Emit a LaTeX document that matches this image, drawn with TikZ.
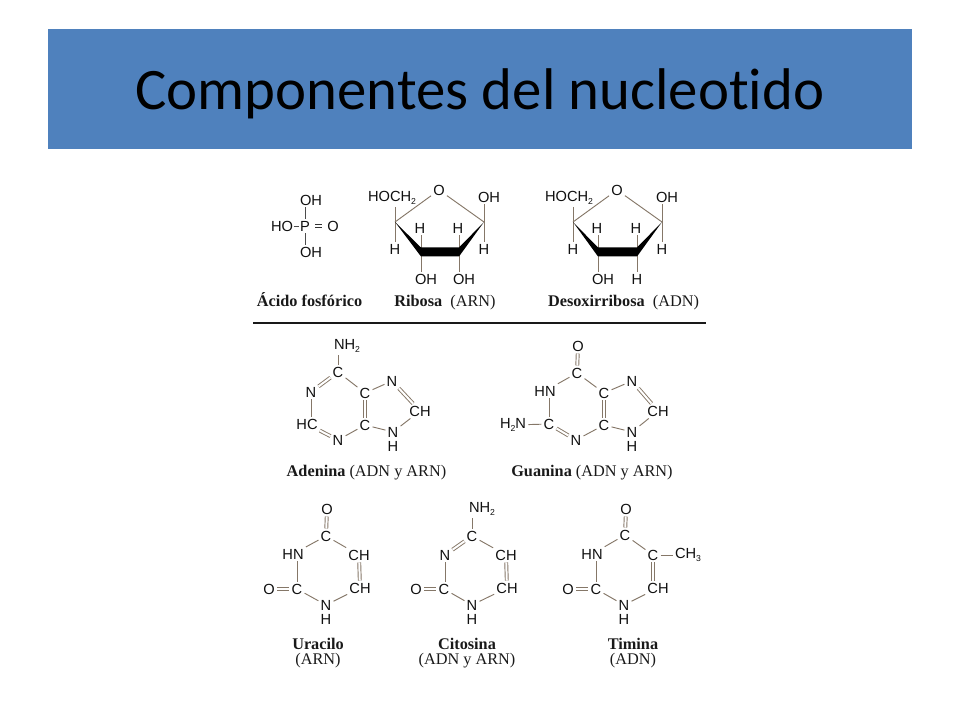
\documentclass[tikz,border=0pt]{standalone}
\usepackage{fontspec}
\setmainfont{Liberation Serif}
\setsansfont{Liberation Sans}
\newfontfamily\titlefont[Ligatures=NoCommon]{Carlito}
\definecolor{bandblue}{HTML}{4F81BD}
\definecolor{bondgray}{HTML}{857768}
\definecolor{atomgray}{HTML}{101010}
\newcommand{\lowsub}[1]{\raisebox{-2.2pt}{\fontsize{6.5}{7}\selectfont #1}}
\tikzset{
	atom/.style = {font = \sffamily\fontsize{11}{12}\selectfont, text = atomgray, inner sep = 1.5pt},
	caption/.style = {font = \fontsize{12.2}{11.8}\selectfont, text = black!90, inner sep = 0pt, anchor = base},
	capstack/.style = {font = \fontsize{12.2}{11.8}\selectfont, text = black!90, inner sep = 0pt, align = center},
	bond/.style = {draw = bondgray, line width = 0.7pt},
	dbond/.style = {draw = bondgray, line width = 0.7pt, double = white, double distance = 1.5pt},
}

\begin{document}
\begin{tikzpicture}[x = 0.75pt, y = -0.75pt]
	\useasboundingbox (0,0) rectangle (960,720);
	
	\fill [bandblue] (48,29) rectangle (912,149);
	\node [font = \titlefont\fontsize{44.1}{50}\selectfont, inner sep = 0pt] (title) at (480,94) {Componentes del nucleotido};
	
	% acido fosforico
	\begin{scope}
		\node [atom] (pP) at (305,226) {P};
		\node [atom] (pOa) at (311,200) {OH};
		\node [atom] (pHO) at (282,226) {HO};
		\node [atom] (pO) at (333,226) {O};
		\node [atom] (pOb) at (311,252) {OH};
		
		\draw [line width = 0.7pt, black!70] (pP.north) -- (pP.north |- pOa.south);
		\draw [line width = 0.7pt, black!70] (pP.south) -- (pP.south |- pOb.north);
		\draw [line width = 0.7pt, black!70, shorten <= -1.2pt, shorten >= -1.2pt] (pHO) -- (pP);
		\draw [dbond, draw = black!80, shorten <= 2pt, shorten >= 2pt] (pP) -- (pO);
		
		\node [caption] (pname) at (309.5,306) {\textbf{Ácido fosfórico}};
	\end{scope}
	
	% ribosa
	\begin{scope}
		\coordinate (ra) at (395,222);
		\coordinate (rb) at (421,252);
		\coordinate (rc) at (459,252);
		\coordinate (rd) at (484,222);
		
		\node [atom] (rO) at (439,190) {O};
		\node [atom] (rCH) at (392,198) {HOCH\lowsub{2}};
		\node [atom] (rOH) at (489,197) {OH};
		\node [atom] (rHa) at (395,249) {H};
		\node [atom] (rHb) at (420,228) {H};
		\node [atom] (rHc) at (458,228) {H};
		\node [atom] (rHd) at (484,249) {H};
		\node [atom] (rOHa) at (426,279) {OH};
		\node [atom] (rOHb) at (464,279) {OH};
		
		\draw [bond] (ra) -- (rO);
		\draw [bond] (rO) -- (rd);
		\draw [bond] (ra |- rCH.south) -- (rHa.north);
		\draw [bond] (rd |- rOH.south) -- (rHd.north);
		\draw [bond] (rb |- rHb.south) -- (rb |- rOHa.north);
		\draw [bond] (rc |- rHc.south) -- (rc |- rOHb.north);
		\fill [black] (ra) -- (421,247.5) -- (459,247.5) -- (rd) -- (459,256.5) -- (421,256.5) -- cycle;
		
		\node [caption] (rname) at (445,306) {\textbf{Ribosa}\ \ (ARN)};
	\end{scope}
	
	% desoxirribosa
	\begin{scope}
		\coordinate (da) at (573,222);
		\coordinate (db) at (598,252);
		\coordinate (dc) at (637,252);
		\coordinate (dd) at (662,222);
		
		\node [atom] (dO) at (617,190) {O};
		\node [atom] (dCH) at (569,198) {HOCH\lowsub{2}};
		\node [atom] (dOH) at (667,197) {OH};
		\node [atom] (dHa) at (573,249) {H};
		\node [atom] (dHb) at (597,228) {H};
		\node [atom] (dHc) at (636,228) {H};
		\node [atom] (dHd) at (662,249) {H};
		\node [atom] (dOHa) at (603,279) {OH};
		\node [atom] (dHe) at (637,279) {H};
		
		\draw [bond] (da) -- (dO);
		\draw [bond] (dO) -- (dd);
		\draw [bond] (da |- dCH.south) -- (dHa.north);
		\draw [bond] (dd |- dOH.south) -- (dHd.north);
		\draw [bond] (db |- dHb.south) -- (db |- dOHa.north);
		\draw [bond] (dc |- dHc.south) -- (dc |- dHe.north);
		\fill [black] (da) -- (598,247.5) -- (637,247.5) -- (dd) -- (637,256.5) -- (598,256.5) -- cycle;
		
		\node [caption] (dname) at (623.5,306) {\textbf{Desoxirribosa}\ \ (ADN)};
	\end{scope}
	
	\coordinate (ruleL) at (253,323);
	\coordinate (ruleR) at (706,323);
	\draw [line width = 1.4pt, black!90] (ruleL) -- (ruleR);
	
	% adenina
	\begin{scope}
		\node [atom] (aNH) at (347,346) {NH\lowsub{2}};
		\node [atom] (aCa) at (338,372) {C};
		\node [atom] (aNa) at (311,392) {N};
		\node [atom] (aCb) at (365,393) {C};
		\node [atom] (aCc) at (365,425) {C};
		\node [atom] (aHC) at (307,424) {HC};
		\node [atom] (aNb) at (338,440) {N};
		\node [atom] (aNc) at (392,381) {N};
		\node [atom] (aCH) at (420,411) {CH};
		\node [atom] (aNd) at (393,432) {N};
		\node [atom] (aH) at (393,446) {H};
		
		\draw [bond] (aCa.north) -- (aCa.north |- aNH.south);
		\draw [dbond] (aCa) -- (aNa);
		\draw [bond] (aCa) -- (aCb);
		\draw [bond] (aNa.south) -- (aNa.south |- aHC.north);
		\draw [dbond] (aHC) -- (aNb);
		\draw [bond] (aNb) -- (aCc);
		\draw [dbond] (aCb) -- (aCc);
		\draw [bond] (aCb) -- (aNc);
		\draw [dbond] (aNc) -- (aCH);
		\draw [bond] (aCH) -- (aNd);
		\draw [bond] (aCc) -- (aNd);
		
		\node [caption] (aname) at (366.5,476) {\textbf{Adenina} (ADN y ARN)};
	\end{scope}
	
	% guanina
	\begin{scope}
		\node [atom] (gO) at (578,346) {O};
		\node [atom] (gCa) at (577,373) {C};
		\node [atom] (gHN) at (545,391) {HN};
		\node [atom] (gCb) at (549,424) {C};
		\node [atom] (gHH) at (513,425) {H\lowsub{2}N};
		\node [atom] (gNa) at (576,440) {N};
		\node [atom] (gCc) at (604,393) {C};
		\node [atom] (gCd) at (604,425) {C};
		\node [atom] (gNb) at (632,381) {N};
		\node [atom] (gCH) at (658,411) {CH};
		\node [atom] (gNc) at (632,432) {N};
		\node [atom] (gH) at (632,446) {H};
		
		\draw [dbond] (gO) -- (gCa);
		\draw [bond] (gCa) -- (gHN);
		\draw [bond] (gCa) -- (gCc);
		\draw [bond] (gCb.north) -- (gCb.north |- gHN.south);
		\draw [bond] (gHH) -- (gCb);
		\draw [dbond] (gCb) -- (gNa);
		\draw [bond] (gNa) -- (gCd);
		\draw [dbond] (gCc) -- (gCd);
		\draw [bond] (gCc) -- (gNb);
		\draw [dbond] (gNb) -- (gCH);
		\draw [bond] (gCH) -- (gNc);
		\draw [bond] (gCd) -- (gNc);
		
		\node [caption] (gname) at (592,476) {\textbf{Guanina} (ADN y ARN)};
	\end{scope}
	
	% uracilo
	\begin{scope}
		\node [atom] (uOa) at (327,509) {O};
		\node [atom] (uCa) at (326,536) {C};
		\node [atom] (uHN) at (293,554) {HN};
		\node [atom] (uCHa) at (359,555) {CH};
		\node [atom] (uCb) at (297,589) {C};
		\node [atom] (uOb) at (269,589) {O};
		\node [atom] (uCHb) at (360,588) {CH};
		\node [atom] (uN) at (326,605) {N};
		\node [atom] (uH) at (326,619) {H};
		
		\draw [dbond] (uOa) -- (uCa);
		\draw [bond] (uCa) -- (uHN);
		\draw [bond] (uCa) -- (uCHa);
		\draw [bond] (uCb.north) -- (uCb.north |- uHN.south);
		\draw [dbond] (uOb) -- (uCb);
		\draw [dbond] (uCHa) -- (uCHb);
		\draw [bond] (uCb) -- (uN);
		\draw [bond] (uN) -- (uCHb);
		
		\node [capstack] (uname) at (318,653) {\textbf{Uracilo}\\(ARN)};
	\end{scope}
	
	% citosina
	\begin{scope}
		\node [atom] (cNH) at (482,509) {NH\lowsub{2}};
		\node [atom] (cCa) at (472,536) {C};
		\node [atom] (cNa) at (445,555) {N};
		\node [atom] (cCHa) at (506,555) {CH};
		\node [atom] (cCb) at (444,589) {C};
		\node [atom] (cO) at (416,589) {O};
		\node [atom] (cCHb) at (507,588) {CH};
		\node [atom] (cNb) at (472,605) {N};
		\node [atom] (cH) at (472,619) {H};
		
		\draw [bond] (cCa.north) -- (cCa.north |- cNH.south);
		\draw [dbond] (cCa) -- (cNa);
		\draw [bond] (cCa) -- (cCHa);
		\draw [bond] (cNa.south) -- (cNa.south |- cCb.north);
		\draw [dbond] (cO) -- (cCb);
		\draw [dbond] (cCHa) -- (cCHb);
		\draw [bond] (cCb) -- (cNb);
		\draw [bond] (cNb) -- (cCHb);
		
		\node [capstack] (cname) at (467,653) {\textbf{Citosina}\\(ADN y ARN)};
	\end{scope}
	
	% timina
	\begin{scope}
		\node [atom] (tOa) at (626,509) {O};
		\node [atom] (tCa) at (625,535) {C};
		\node [atom] (tHN) at (592,554) {HN};
		\node [atom] (tCb) at (653,555) {C};
		\node [atom] (tCH) at (688,555) {CH\lowsub{3}};
		\node [atom] (tCc) at (596,589) {C};
		\node [atom] (tOb) at (568,589) {O};
		\node [atom] (tCHb) at (658,588) {CH};
		\node [atom] (tN) at (624,605) {N};
		\node [atom] (tH) at (624,619) {H};
		
		\draw [dbond] (tOa) -- (tCa);
		\draw [bond] (tCa) -- (tHN);
		\draw [bond] (tCa) -- (tCb);
		\draw [bond] (tCb) -- (tCH);
		\draw [bond] (tCc.north) -- (tCc.north |- tHN.south);
		\draw [dbond] (tOb) -- (tCc);
		\draw [dbond] (tCb.south) -- (tCb.south |- tCHb.north);
		\draw [bond] (tCc) -- (tN);
		\draw [bond] (tN) -- (tCHb);
		
		\node [capstack] (tname) at (633,653) {\textbf{Timina}\\(ADN)};
	\end{scope}
\end{tikzpicture}
\end{document}
